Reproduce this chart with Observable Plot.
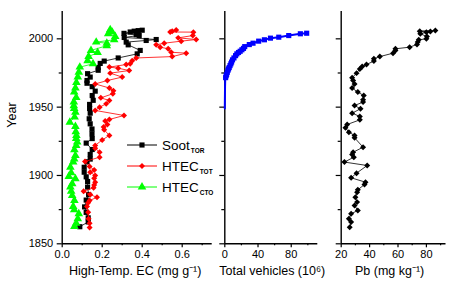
<!DOCTYPE html>
<html><head><meta charset="utf-8">
<script src="https://cdn.jsdelivr.net/npm/d3@7"></script>
<script src="https://cdn.jsdelivr.net/npm/@observablehq/plot@0.6"></script>
<style>
html,body{margin:0;padding:0;background:#fff;}
#chart{position:relative;width:454px;height:286px;overflow:hidden;font-family:"Liberation Sans",Arial,sans-serif;background:#fff;}
#chart svg{position:absolute;top:0;}
</style></head><body><div id="chart"></div>
<script>
// ---- Data ----
const sootYear = [1862.5,1866,1869,1873,1877,1882,1886,1891.5,1895.6,1899,1902.4,1906,1910,1912,1915.4,1919,1923.7,1927,1930.5,1934,1937.8,1941.5,1945.6,1949,1952,1955,1958.5,1961.7,1965,1967.5,1969.5,1972,1974.5,1977,1979,1982,1983.7,1986,1989,1991.5,1995.6,1997.6,1998.8,1999.5,2001,2002.5,2003,2004,2005,2005.6,2006,2006.3];
const sootValue = [0.088,0.13,0.13,0.12,0.112,0.12,0.132,0.127,0.127,0.12,0.11,0.11,0.124,0.14,0.14,0.15,0.12,0.15,0.149,0.149,0.14,0.135,0.14,0.137,0.137,0.155,0.15,0.165,0.15,0.124,0.124,0.14,0.127,0.18,0.18,0.19,0.21,0.28,0.375,0.39,0.33,0.32,0.42,0.47,0.31,0.385,0.37,0.309,0.34,0.36,0.38,0.40];

const totYear = [1862,1865,1868.3,1873,1877.3,1880,1881.7,1884,1886,1888.5,1891,1893,1895,1898,1900,1902.4,1904,1906.6,1910.2,1913.4,1917,1920,1922,1926,1929.3,1933.4,1935.4,1937.3,1939.8,1941,1943.9,1947.6,1950,1952.4,1954.9,1956.8,1959.8,1962,1964,1967,1969.5,1972,1974.9,1976.8,1978.5,1979.3,1981.2,1981.7,1984,1986,1987,1989.5,1990.2,1992.7,1993.9,1995.6,1996.8,1998.3,1999.5,2000.7,2002.4,2004.9,2005,2005.6,2006.4];
const totValue = [0.137,0.137,0.132,0.13,0.124,0.13,0.137,0.174,0.14,0.107,0.157,0.16,0.165,0.16,0.165,0.14,0.16,0.137,0.114,0.187,0.187,0.165,0.165,0.20,0.236,0.21,0.207,0.226,0.215,0.236,0.309,0.165,0.187,0.22,0.236,0.193,0.253,0.256,0.236,0.165,0.226,0.30,0.24,0.335,0.28,0.236,0.32,0.34,0.35,0.37,0.55,0.62,0.545,0.53,0.49,0.47,0.51,0.595,0.67,0.58,0.653,0.656,0.54,0.55,0.57];

const ctoYear = [1862.7,1865,1868.3,1872,1875,1877.3,1881.7,1885.4,1888.5,1891.5,1894,1897.6,1899.3,1902,1906,1909.8,1912,1914.6,1918.8,1922,1924.4,1927,1929.3,1932,1935.9,1939,1942.7,1946.3,1949,1951,1953.7,1957,1961,1964,1968,1972,1975.6,1979.3,1981.7,1984,1987,1990,1991.5,1995,1996.8,1997.6,1999.3,2001.7,2003.7,2004.9,2006.6];
const ctoValue = [0.061,0.07,0.078,0.083,0.06,0.055,0.061,0.05,0.045,0.041,0.05,0.066,0.033,0.045,0.041,0.055,0.06,0.066,0.061,0.07,0.075,0.07,0.071,0.068,0.066,0.038,0.062,0.066,0.06,0.058,0.058,0.07,0.06,0.066,0.071,0.078,0.083,0.088,0.154,0.127,0.132,0.177,0.144,0.223,0.223,0.17,0.26,0.265,0.23,0.25,0.24];

const vehYear = [1949,1955,1960,1965,1970,1971.6,1973,1974,1975.5,1977,1978,1979,1980.4,1981.7,1983,1984.6,1986,1987.7,1989,1990,1990.9,1992,1993,1994.3,1995.8,1996.8,1998.3,1999.3,2000.5,2001.2,2002.4,2003.7,2004.1];
const vehValue = [0,0.1,0.2,0.3,0.5,1,1.6,2.2,3,3.8,4.5,5.3,6.3,7.3,8.2,9.3,11,13,14.5,16.5,18.5,20.6,22.5,24,29.5,34,40.8,47.7,55,65,77,91,98.6];

const pbYear = [1862.2,1865.9,1868.3,1872,1874.4,1878,1880.5,1884.1,1887.8,1889.5,1893.4,1895.1,1898.3,1901.7,1907.3,1909.8,1913.4,1915.4,1917,1920.7,1927.6,1929.3,1931.7,1934.9,1937.3,1940.7,1943.2,1945.6,1948.8,1951.2,1953.7,1955.4,1958.5,1961,1964,1967,1969.5,1971.5,1974.9,1978,1979.8,1981.2,1983.7,1985.4,1987,1989.5,1991.5,1992.7,1993.9,1995.9,1997.6,1999.3,2000,2001.7,2003.7,2004.9,2005.3,2005.6,2006.1];
const pbValue = [26,27,25.4,27,31.7,29.4,31.2,30,31.2,31.7,36.4,37.1,27,30.8,38.3,22.3,28.9,27.7,28.4,35.4,29.4,29.4,25.4,23,24.2,33.1,33.1,27.7,33.6,29.4,35.4,35.4,35.9,31.7,27.7,29.4,28.4,27.7,30.8,33.1,34.8,37.8,43,43,47.2,56.5,58.2,58.2,68.2,73.4,73.9,74.6,80,80.4,75.7,80,82.8,75.3,86.3];

const yMajor = [1850,1900,1950,2000];
const yMinor = [1875,1925,1975];
const ecMajor = [0,0.2,0.4,0.6];
const ecMinor = [0.1,0.3,0.5,0.7];
const vehMajor = [0,40,80];
const vehMinor = [20,60,100];
const pbMajor = [20,40,60,80];
const pbMinor = [30,50,70,90];

const labels = {
  year: "Year",
  ec: "High-Temp. EC (mg g\u207B\u00B9)",
  veh: "Total vehicles (10\u2076)",
  pb: "Pb (mg kg\u207B\u00B9)"
};
const legendNames = [["Soot","TOR"],["HTEC","TOT"],["HTEC","CTO"]];
const colors = {soot:"#000000", tot:"#ff0000", cto:"#00ff00", veh:"#0000ff", pb:"#000000"};

// ---- tables ----
const zip = (ys, vs) => ys.map((y,i)=>({year:y, value:vs[i]}));
const soot = zip(sootYear, sootValue);
const tot = zip(totYear, totValue);
const cto = zip(ctoYear, ctoValue);
const veh = zip(vehYear, vehValue);
const pb = zip(pbYear, pbValue);

const H = 286, MT = 11, MB = 42.7;
const FONT = "Liberation Sans, Arial, sans-serif";
const baseStyle = {background:"transparent", overflow:"visible", fontFamily: FONT, color:"#000"};
const yDomain = [1850, 2020];
const R_SQ = 2.9, R_DI = 2.7, R_TR = 3.2;

function frameMarks(xMin, xMajor, xMinor, fmt, showYLabels) {
  return [
    Plot.ruleX([xMin], {stroke:"#000", strokeWidth:1.4}),
    Plot.ruleY([1850], {stroke:"#000", strokeWidth:1.4}),
    Plot.axisY(yMajor, {tickSize:5, tickPadding:4, fontSize:11, label:null, tickFormat: showYLabels ? (d=>String(d)) : (()=>""), strokeWidth:1.2}),
    Plot.axisY(yMinor, {tickSize:3, label:null, tickFormat:()=>"", strokeWidth:1.2}),
    Plot.axisX(xMajor, {tickSize:4, tickPadding:2, fontSize:11, label:null, tickFormat: fmt, strokeWidth:1.2}),
    Plot.axisX(xMinor, {tickSize:2, label:null, tickFormat:()=>"", strokeWidth:1.2})
  ];
}

const chart = document.getElementById("chart");

// Panel 1: High-temp EC
const p1 = Plot.plot({
  width: 220, height: H, marginLeft: 61.7, marginRight: 8.3, marginTop: MT, marginBottom: MB,
  style: baseStyle,
  x: {domain:[0,0.75]}, y: {domain: yDomain},
  marks: [
    ...frameMarks(0, ecMajor, ecMinor, d3.format(".1f"), true),
    Plot.line(soot, {x:"value", y:"year", stroke:colors.soot, strokeWidth:0.8}),
    Plot.dot(soot, {x:"value", y:"year", symbol:"square", r:R_SQ, fill:colors.soot, stroke:null}),
    Plot.line(tot, {x:"value", y:"year", stroke:colors.tot, strokeWidth:0.8}),
    Plot.dot(tot, {x:"value", y:"year", symbol:"diamond2", r:R_DI, fill:colors.tot, stroke:null}),
    Plot.line(cto, {x:"value", y:"year", stroke:colors.cto, strokeWidth:0.8}),
    Plot.dot(cto, {x:"value", y:"year", symbol:"triangle", r:R_TR, fill:colors.cto, stroke:null}),
    Plot.text([labels.ec], {frameAnchor:"bottom", dy:31, dx:-2, fontSize:12.5, text:d=>d, fill:"#000"}),
    Plot.text([labels.year], {frameAnchor:"left", dx:-50, rotate:-90, fontSize:12.5, text:d=>d, fill:"#000"})
  ]
});
p1.style.left = "0px";
chart.appendChild(p1);

// Panel 2: vehicles
const p2 = Plot.plot({
  width: 112, height: H, marginLeft: 12.3, marginRight: 6.7, marginTop: MT, marginBottom: MB,
  style: baseStyle,
  x: {domain:[0,112]}, y: {domain: yDomain},
  marks: [
    ...frameMarks(0, vehMajor, vehMinor, d=>String(d), false),
    Plot.line(veh, {x:"value", y:"year", stroke:colors.veh, strokeWidth:2}),
    Plot.dot(veh.filter(d=>d.year>1971), {x:"value", y:"year", symbol:"square", r:R_SQ, fill:colors.veh, stroke:null}),
    Plot.text([labels.veh], {frameAnchor:"bottom", dy:31, dx:1, fontSize:12.5, text:d=>d, fill:"#000"})
  ]
});
p2.style.left = "212px";
chart.appendChild(p2);

// Panel 3: Pb
const p3 = Plot.plot({
  width: 128, height: H, marginLeft: 14.7, marginRight: 8.5, marginTop: MT, marginBottom: MB,
  style: baseStyle,
  x: {domain:[20,93.8]}, y: {domain: yDomain},
  marks: [
    ...frameMarks(20, pbMajor, pbMinor, d=>String(d), false),
    Plot.line(pb, {x:"value", y:"year", stroke:colors.pb, strokeWidth:0.8}),
    Plot.dot(pb, {x:"value", y:"year", symbol:"diamond2", r:R_DI, fill:colors.pb, stroke:null}),
    Plot.text([labels.pb], {frameAnchor:"bottom", dy:31, dx:-4, fontSize:12.5, text:d=>d, fill:"#000"})
  ]
});
p3.style.left = "326px";
chart.appendChild(p3);

// Legend overlay
const svg = d3.select(chart).append("svg")
  .attr("width", 454).attr("height", 286)
  .style("left","0px").style("pointer-events","none")
  .attr("font-family", FONT);
const legendColors = [colors.soot, colors.tot, colors.cto];
const legendSymbols = [d3.symbolSquare, d3.symbolDiamond2, d3.symbolTriangle];
const legendR = [R_SQ, R_DI, R_TR];
legendNames.forEach(([name, sub], i) => {
  const y = 145 + i * 21;
  const g = svg.append("g");
  g.append("line").attr("x1",127).attr("x2",157).attr("y1",y).attr("y2",y)
    .attr("stroke", legendColors[i]).attr("stroke-width",1);
  g.append("path").attr("transform",`translate(142,${y})`)
    .attr("d", d3.symbol(legendSymbols[i], Math.PI*legendR[i]*legendR[i])())
    .attr("fill", legendColors[i]);
  const t = g.append("text").attr("x",162).attr("y",y).attr("dy","0.36em")
    .attr("font-size",13.5).attr("fill","#000");
  t.append("tspan").text(name);
  t.append("tspan").attr("dy","0.45em").attr("font-size",6.5).attr("font-weight","bold").attr("dx",1).text(sub);
});
</script></body></html>
